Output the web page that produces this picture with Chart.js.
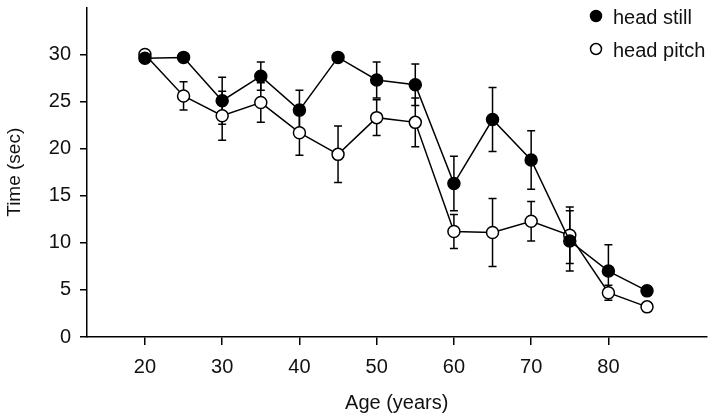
<!DOCTYPE html>
<html>
<head>
<meta charset="utf-8">
<script src="https://cdn.jsdelivr.net/npm/chart.js@4/dist/chart.umd.min.js"></script>
<style>
  html, body { margin: 0; padding: 0; background: #fff; }
  #wrap { width: 714px; height: 419px; }
</style>
</head>
<body>
<div id="wrap"><canvas id="c"></canvas></div>
<script>
// Данные
const ages = [20, 25, 30, 35, 40, 45, 50, 55, 60, 65, 70, 75, 80, 85];
const headStill = [29.6, 29.7, 25.1, 27.7, 24.1, 29.7, 27.3, 26.8, 16.3, 23.1, 18.8, 10.2, 7.0, 4.9];
const headStillErr = [0, 0, 2.5, 1.5, 2.1, 0, 1.9, 2.2, 2.9, 3.4, 3.1, 3.2, 2.8, 0];
const headPitch = [30.0, 25.6, 23.5, 24.9, 21.7, 19.4, 23.3, 22.8, 11.2, 11.1, 12.3, 10.8, 4.7, 3.2];
const headPitchErr = [0, 1.5, 2.6, 2.1, 2.4, 3.0, 1.9, 2.6, 1.8, 3.6, 2.1, 3.0, 0.8, 0];
const xTicks = [20, 30, 40, 50, 60, 70, 80];
const yTicks = [0, 5, 10, 15, 20, 25, 30];

const font = "'Liberation Sans', Arial, sans-serif";

// Планки погрешностей (рисуем под маркерами)
const errorBars = {
  id: 'errorBars',
  beforeDatasetsDraw(chart) {
    const ctx = chart.ctx;
    const xs = chart.scales.x, ys = chart.scales.y;
    ctx.save();
    ctx.strokeStyle = '#000';
    ctx.lineWidth = 1.5;
    chart.data.datasets.forEach(ds => {
      ds.data.forEach((p, i) => {
        const e = ds.err[i];
        if (!e) return;
        const x = xs.getPixelForValue(p.x);
        const y1 = ys.getPixelForValue(p.y + e);
        const y2 = ys.getPixelForValue(p.y - e);
        ctx.beginPath();
        ctx.moveTo(x, y1); ctx.lineTo(x, y2);
        ctx.moveTo(x - 4, y1); ctx.lineTo(x + 4, y1);
        ctx.moveTo(x - 4, y2); ctx.lineTo(x + 4, y2);
        ctx.stroke();
      });
    });
    ctx.restore();
  }
};

// Легенда справа сверху
const legendBox = {
  id: 'legendBox',
  afterDraw(chart) {
    const ctx = chart.ctx;
    ctx.save();
    ctx.font = '20px ' + font;
    ctx.textBaseline = 'alphabetic';
    chart.data.datasets.forEach((ds, i) => {
      const y = 16 + i * 33;
      ctx.beginPath();
      ctx.arc(596, y, 5.5, 0, Math.PI * 2);
      ctx.fillStyle = ds.pointBackgroundColor;
      ctx.fill();
      ctx.lineWidth = 1.5;
      ctx.strokeStyle = '#000';
      ctx.stroke();
      ctx.fillStyle = '#111';
      ctx.fillText(ds.label, 613, y + 8);
    });
    ctx.restore();
  }
};

new Chart(document.getElementById('c'), {
  type: 'line',
  data: {
    datasets: [
      {
        label: 'head still',
        data: ages.map((a, i) => ({ x: a, y: headStill[i] })),
        err: headStillErr,
        borderColor: '#000',
        borderWidth: 1.5,
        pointBackgroundColor: '#000',
        pointBorderColor: '#000',
        pointBorderWidth: 1.5,
        pointRadius: 6,
        tension: 0
      },
      {
        label: 'head pitch',
        data: ages.map((a, i) => ({ x: a, y: headPitch[i] })),
        err: headPitchErr,
        borderColor: '#000',
        borderWidth: 1.5,
        pointBackgroundColor: '#fff',
        pointBorderColor: '#000',
        pointBorderWidth: 1.5,
        pointRadius: 6,
        tension: 0
      }
    ]
  },
  options: {
    responsive: true,
    maintainAspectRatio: false,
    animation: false,
    layout: { padding: { top: 5, right: 7, left: 0, bottom: 0 } },
    plugins: { legend: { display: false }, tooltip: { enabled: false } },
    scales: {
      x: {
        type: 'linear',
        min: 12.5,
        max: 92.7,
        afterBuildTicks: s => { s.ticks = xTicks.map(v => ({ value: v })); },
        afterFit: s => { s.height = 82; s.paddingLeft = 0; s.paddingRight = 0; },
        grid: { drawOnChartArea: false, color: '#000', lineWidth: 1.5, tickLength: 8 },
        border: { color: '#000', width: 1.5 },
        ticks: { color: '#111', font: { family: font, size: 20 }, padding: 10, maxRotation: 0 },
        title: { display: true, text: 'Age (years)', color: '#111', font: { family: font, size: 20 }, padding: { top: 4, bottom: 4 } }
      },
      y: {
        min: 0,
        max: 35,
        afterBuildTicks: s => { s.ticks = yTicks.map(v => ({ value: v })); },
        afterFit: s => { s.width = 87; s.paddingTop = 0; s.paddingBottom = 0; },
        grid: { drawOnChartArea: false, color: '#000', lineWidth: 1.5, tickLength: 7 },
        border: { color: '#000', width: 1.5 },
        ticks: { color: '#111', font: { family: font, size: 20 }, padding: 9 },
        title: { display: true, text: 'Time (sec)', color: '#111', font: { family: font, size: 19 }, padding: { top: 3, bottom: 4 } }
      }
    }
  },
  plugins: [errorBars, legendBox]
});
</script>
</body>
</html>
